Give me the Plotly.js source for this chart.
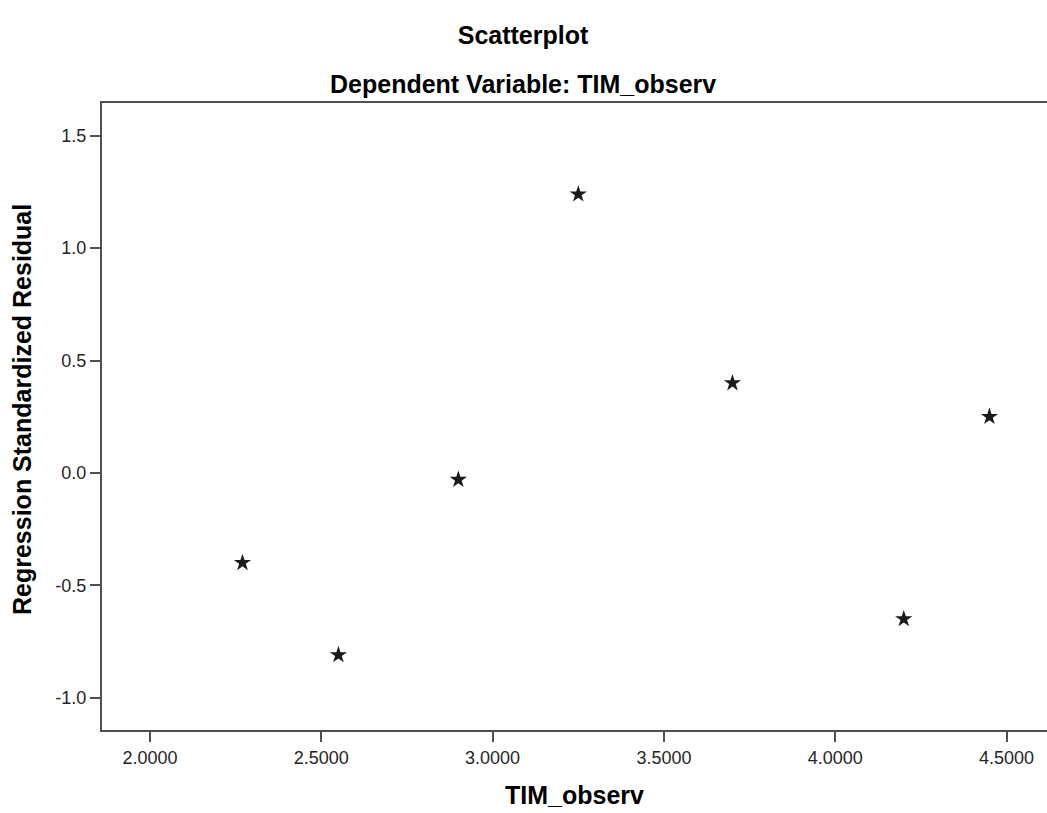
<!DOCTYPE html>
<html>
<head>
<meta charset="utf-8">
<script src="https://cdn.plot.ly/plotly-3.0.1.min.js"></script>
<style>
  html, body { margin: 0; padding: 0; background: #ffffff; }
  #chart { width: 1047px; height: 813px; }
</style>
</head>
<body>
<div id="chart"></div>
<script>
// Data
const timObserv = [2.27, 2.55, 2.90, 3.25, 3.70, 4.20, 4.45];
const stdResidual = [-0.40, -0.81, -0.03, 1.24, 0.40, -0.65, 0.25];

const xTickVals = [2.0, 2.5, 3.0, 3.5, 4.0, 4.5];
const xTickText = ['2.0000', '2.5000', '3.0000', '3.5000', '4.0000', '4.5000'];
const yTickVals = [-1.0, -0.5, 0.0, 0.5, 1.0, 1.5];
const yTickText = ['-1.0', '-0.5', '0.0', '0.5', '1.0', '1.5'];

const mainTitle = 'Scatterplot';
const subTitle = 'Dependent Variable: TIM_observ';
const xTitle = 'TIM_observ';
const yTitle = 'Regression Standardized Residual';

const FONT = 'Arial, "Liberation Sans", sans-serif';
const AXIS_COLOR = '#505050';
const TITLE_SIZE = 25;

const trace = {
  type: 'scatter',
  mode: 'markers',
  x: timObserv,
  y: stdResidual,
  marker: { symbol: 'star', size: 13, color: '#1a1a1a', line: { width: 0 } },
  hoverinfo: 'x+y',
  showlegend: false
};

const axisCommon = {
  showgrid: false,
  zeroline: false,
  showline: true,
  linecolor: AXIS_COLOR,
  linewidth: 2,
  mirror: true,
  ticks: 'outside',
  ticklen: 10,
  tickwidth: 2,
  tickcolor: AXIS_COLOR,
  tickfont: { family: FONT, size: 18, color: '#262626' }
};

const layout = {
  width: 1047,
  height: 813,
  paper_bgcolor: '#ffffff',
  plot_bgcolor: '#ffffff',
  margin: { l: 102, r: 0, t: 103, b: 83 },
  title: {
    text: '<b>' + mainTitle + '</b>',
    font: { family: FONT, size: TITLE_SIZE, color: '#000000' },
    x: 523 / 1047, xanchor: 'center',
    y: 1 - 35 / 813, yanchor: 'middle'
  },
  xaxis: Object.assign({}, axisCommon, {
    range: [1.86, 4.618],
    tickmode: 'array',
    tickvals: xTickVals,
    ticktext: xTickText
  }),
  yaxis: Object.assign({}, axisCommon, {
    range: [-1.144, 1.646],
    tickmode: 'array',
    tickvals: yTickVals,
    ticktext: yTickText
  }),
  annotations: [
    {
      text: '<b>' + subTitle + '</b>',
      xref: 'paper', yref: 'paper',
      x: (523 - 102) / 945, y: (730 - 84) / 627,
      xanchor: 'center', yanchor: 'middle',
      showarrow: false,
      font: { family: FONT, size: TITLE_SIZE, color: '#000000' }
    },
    {
      text: '<b>' + xTitle + '</b>',
      xref: 'paper', yref: 'paper',
      x: 0.5, y: (730 - 795) / 627,
      xanchor: 'center', yanchor: 'middle',
      showarrow: false,
      font: { family: FONT, size: TITLE_SIZE, color: '#000000' }
    },
    {
      text: '<b>' + yTitle + '</b>',
      xref: 'paper', yref: 'paper',
      x: (22 - 102) / 945, y: (730 - 410) / 627,
      xanchor: 'center', yanchor: 'middle',
      textangle: -90,
      showarrow: false,
      font: { family: FONT, size: TITLE_SIZE, color: '#000000' }
    }
  ]
};

Plotly.newPlot('chart', [trace], layout, { displayModeBar: false });
</script>
</body>
</html>
